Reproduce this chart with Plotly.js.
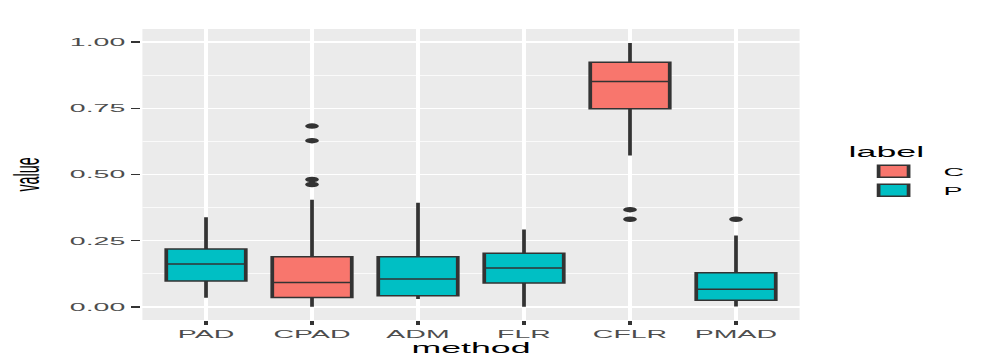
<!DOCTYPE html>
<html>
<head>
<meta charset="utf-8">
<script src="https://cdn.plot.ly/plotly-3.0.1.min.js"></script>
<style>
  html, body { margin: 0; padding: 0; overflow: hidden; background: #fff; }
  /* the source image is stretched sideways, so draw narrow and widen it */
  #chartDiv { width: 399px; height: 360px; transform: scaleX(2.4987); transform-origin: 0 0; }
</style>
</head>
<body>
<div id="chartDiv"></div>
<script>
const methods = ['PAD', 'CPAD', 'ADM', 'FLR', 'CFLR', 'PMAD'];

// label C
const cMethods = ['CPAD', 'CFLR'];
const cLower = [0.000, 0.572];
const cQ1 = [0.035, 0.749];
const cMedian = [0.092, 0.852];
const cQ3 = [0.189, 0.924];
const cUpper = [0.405, 0.997];

// label P
const pMethods = ['PAD', 'ADM', 'FLR', 'PMAD'];
const pLower = [0.034, 0.029, 0.000, 0.001];
const pQ1 = [0.097, 0.042, 0.090, 0.025];
const pMedian = [0.162, 0.105, 0.147, 0.066];
const pQ3 = [0.218, 0.189, 0.202, 0.129];
const pUpper = [0.338, 0.393, 0.292, 0.269];

// outliers
const outMethods = ['CPAD', 'CPAD', 'CPAD', 'CPAD', 'CFLR', 'CFLR', 'PMAD'];
const outValues = [0.683, 0.628, 0.481, 0.462, 0.367, 0.331, 0.331];

const yTicks = [0, 0.25, 0.5, 0.75, 1];
const yTickText = ['0.00', '0.25', '0.50', '0.75', '1.00'];

window.onload = function () {
  const boxStyle = {
    type: 'box',
    width: 0.75,
    whiskerwidth: 0,
    boxpoints: false,
    line: { color: '#333333', width: 1.5 },
    hoverinfo: 'skip'
  };

  const traceC = Object.assign({}, boxStyle, {
    name: 'C',
    x: cMethods,
    q1: cQ1, median: cMedian, q3: cQ3,
    lowerfence: cLower, upperfence: cUpper,
    fillcolor: '#F8766D'
  });
  const traceP = Object.assign({}, boxStyle, {
    name: 'P',
    x: pMethods,
    q1: pQ1, median: pMedian, q3: pQ3,
    lowerfence: pLower, upperfence: pUpper,
    fillcolor: '#00BFC4'
  });
  const traceOut = {
    type: 'scatter',
    mode: 'markers',
    x: outMethods,
    y: outValues,
    marker: { color: '#333333', size: 5.5 },
    showlegend: false,
    hoverinfo: 'skip'
  };

  const layout = {
    width: 399,
    height: 360,
    margin: { l: 56.8, r: 78.6, t: 29, b: 40, autoexpand: false },
    paper_bgcolor: '#ffffff',
    plot_bgcolor: '#EBEBEB',
    font: { family: 'Liberation Sans, Arial, sans-serif', color: '#000' },
    boxmode: 'overlay',
    showlegend: true,
    xaxis: {
      type: 'category',
      categoryorder: 'array',
      categoryarray: methods,
      range: [-0.6, 5.6],
      showgrid: true,
      gridcolor: '#ffffff',
      gridwidth: 1.5,
      zeroline: false,
      showline: false,
      ticks: 'outside',
      ticklen: 3.6,
      tickwidth: 1.5,
      tickcolor: '#333333',
      tickfont: { size: 11.4, color: '#4D4D4D' },
      title: { text: 'method', font: { size: 14.3, color: '#000' }, standoff: 1 },
      automargin: false
    },
    yaxis: {
      range: [-0.05, 1.05],
      tickvals: yTicks,
      ticktext: yTickText,
      showgrid: true,
      gridcolor: '#ffffff',
      gridwidth: 1.6,
      minor: { dtick: 0.25, tick0: 0.125, showgrid: true, gridcolor: '#ffffff', gridwidth: 0.8, ticks: '' },
      zeroline: false,
      showline: false,
      ticks: 'outside',
      ticklen: 3.6,
      tickwidth: 1.5,
      tickcolor: '#333333',
      tickfont: { size: 11.4, color: '#4D4D4D' },
      title: { text: 'value', font: { size: 14.3, color: '#000' }, standoff: 8 },
      automargin: false
    },
    legend: {
      x: 1.067,
      xanchor: 'left',
      y: 0.625,
      yanchor: 'top',
      bgcolor: 'rgba(0,0,0,0)',
      title: { text: 'label', font: { size: 14.3, color: '#000' } },
      font: { size: 11.4, color: '#000' },
      itemwidth: 30,
      tracegroupgap: 0
    }
  };

  Plotly.newPlot('chartDiv', [traceC, traceP, traceOut], layout, { displayModeBar: false, staticPlot: true });
};
</script>
</body>
</html>
